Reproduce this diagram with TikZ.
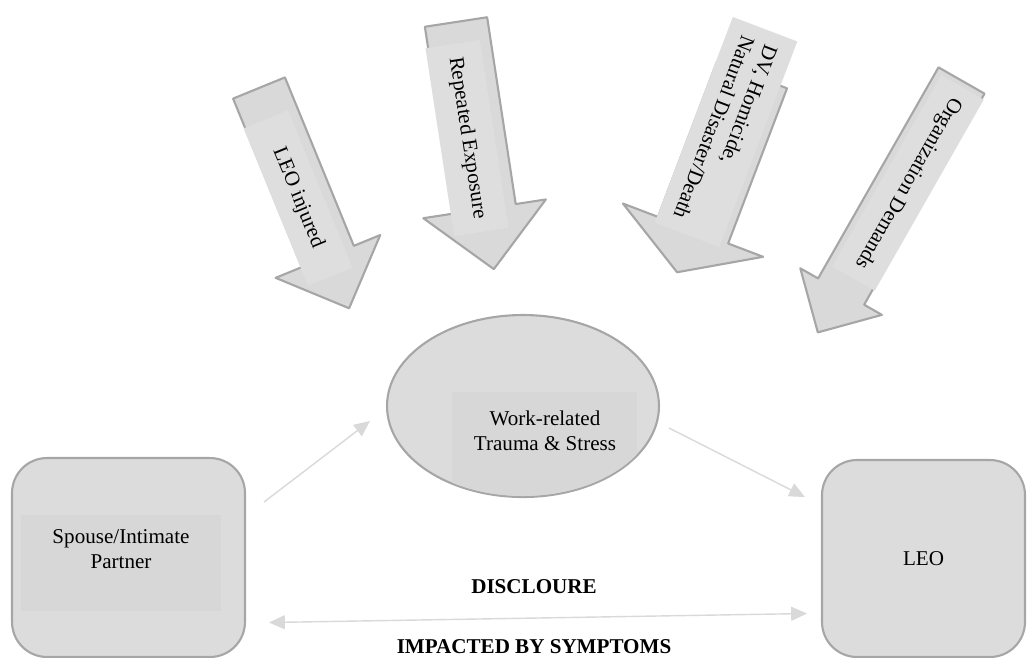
\documentclass[tikz,border=0pt]{standalone}
\usepackage{fontspec}
\setmainfont{Liberation Serif}
\usetikzlibrary{shapes.geometric,arrows.meta,calc}
\definecolor{shapefill}{HTML}{DCDCDC}
\definecolor{innerfill}{HTML}{D7D7D7}
\definecolor{arrowfill}{HTML}{D9D9D9}
\definecolor{arrowtextfill}{HTML}{DEDEDE}
\definecolor{edgegray}{HTML}{A6A6A6}
\definecolor{linkgray}{HTML}{D9D9D9}
\tikzset{
  roundbox/.style={draw=edgegray,line width=1.2pt,fill=shapefill,rounded corners=0.7cm},
  innerbox/.style={fill=innerfill,inner sep=0pt},
  workellipse/.style={ellipse,draw=edgegray,line width=1.2pt,fill=shapefill},
  blockarrow/.style={draw=edgegray,line width=1.2pt,fill=arrowfill,line join=round},
  arrowtext/.style={fill=arrowtextfill,inner sep=0pt},
  link/.style={draw=linkgray,line width=0.8pt,-{Triangle[length=9pt,width=8pt]}},
  boldlabel/.style={font=\fontsize{12}{14}\selectfont\bfseries}
}
% tail point, angle, length, shaft width, head width, head length
\newcommand{\bigarrow}[6]{%
  \begin{scope}[shift={#1},rotate=#2]
    \draw[blockarrow] (0,{-#4/2}) -- ({#3-#6},{-#4/2}) -- ({#3-#6},{-#5/2})
      -- (#3,0) -- ({#3-#6},{#5/2}) -- ({#3-#6},{#4/2}) -- (0,{#4/2}) -- cycle;
  \end{scope}}

\begin{document}
\begin{tikzpicture}[x=0.02cm,y=-0.02cm,font=\fontsize{12}{14}\selectfont]
  \useasboundingbox (0,0) rectangle (1028,657);

  \bigarrow{(259,88)}{-67.75}{238}{56}{113}{56}
  \node[arrowtext,rotate=-67.75,minimum width=3.4cm,minimum height=0.96cm] (injured) at (298,198) {LEO injured};
  \bigarrow{(456,22)}{-81.3}{250}{63}{124}{61}
  \node[arrowtext,rotate=-81.3,minimum width=3.8cm,minimum height=1.1cm] (exposure) at (467,138) {Repeated Exposure};
  \bigarrow{(752,75)}{-110.8}{211}{75}{150}{45}
  \node[arrowtext,rotate=-110.8,minimum width=4.4cm,minimum height=1.38cm,align=left] (disaster) at (726,132) {DV, Homicide,\\Natural Disaster/Death};
  \bigarrow{(961.5,80.5)}{-119.7}{290}{53}{94}{47}
  \node[arrowtext,rotate=-119.7,minimum width=4.4cm,minimum height=0.98cm] (demands) at (908,183) {Organization Demands};

  \node[workellipse,minimum width=5.44cm,minimum height=3.64cm] (work) at (523,406) {};
  \begin{scope}
    \clip (523,406) ellipse [x radius=135,y radius=90];
    \fill[innerfill] (452,392) rectangle (637,500);
  \end{scope}
  \node[align=center] (worktxt) at (545,431) {Work-related\\Trauma \& Stress};

  \node[roundbox,minimum width=4.66cm,minimum height=3.98cm] (spouse) at (128.5,557.5) {};
  \node[innerbox,minimum width=4cm,minimum height=1.92cm] (spouseback) at (121,563) {};
  \node[align=center] (spousetxt) at (121,549) {Spouse/Intimate\\Partner};
  \node[roundbox,minimum width=4.06cm,minimum height=3.94cm] (leo) at (923.5,558.5) {LEO};

  \draw[link] ($(spouse.east)+(18,-55.5)$) -- ($(work.west)+(-16,15)$);
  \draw[link] ($(work.east)+(9,22)$) -- ($(leo.west)+(-16,-61.5)$);
  \draw[link,{Triangle[length=9pt,width=8pt]}-{Triangle[length=9pt,width=8pt]}] ($(spouse.east)+(23,65)$) -- ($(leo.west)+(-14,55)$);

  \node[boldlabel] (disclosure) at (534,587) {DISCLOURE};
  \node[boldlabel] (impacted) at (534,647) {IMPACTED BY SYMPTOMS};
\end{tikzpicture}
\end{document}
